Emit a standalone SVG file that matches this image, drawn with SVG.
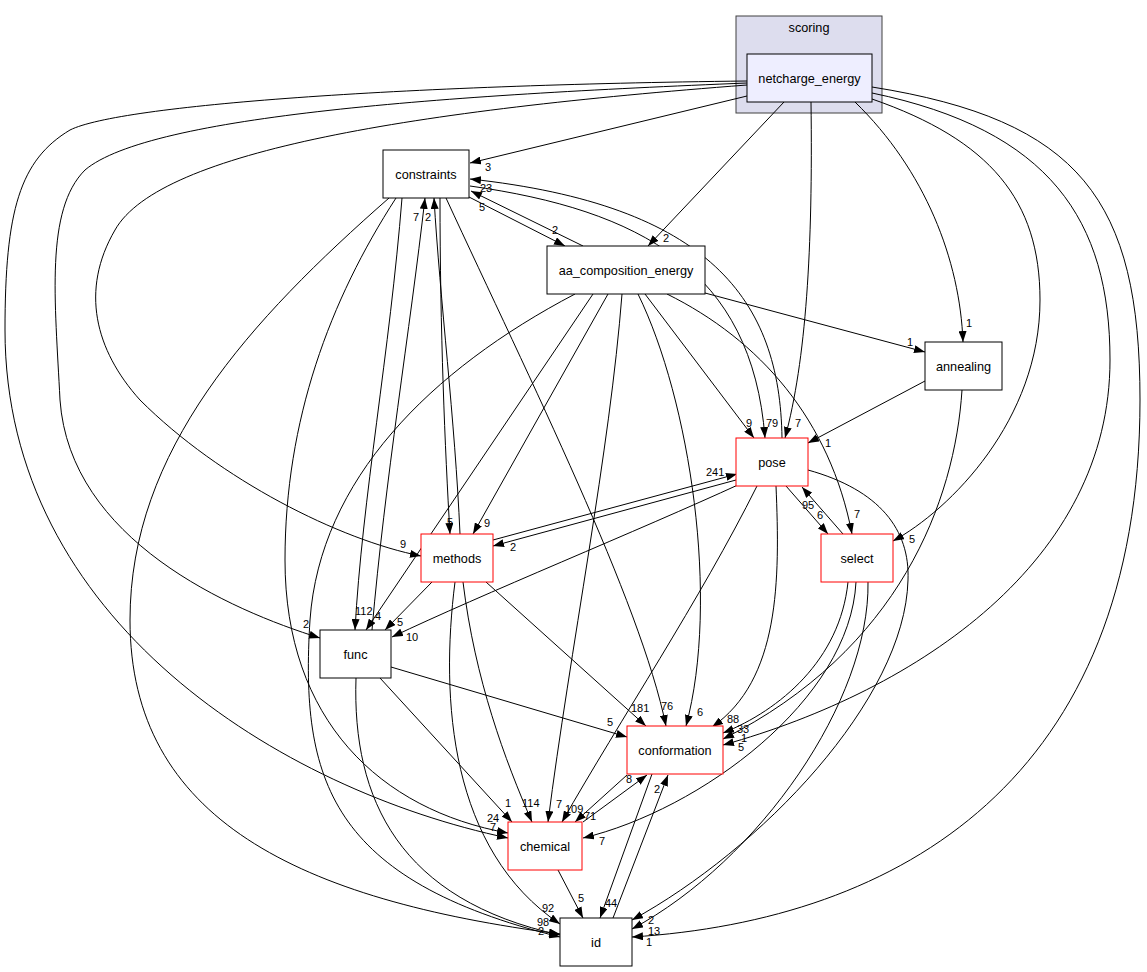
<svg xmlns="http://www.w3.org/2000/svg" width="1147" height="972" viewBox="0 0 1147 972">
<style>
.e{fill:none;stroke:#000;stroke-width:1;marker-end:url(#ah)}
.l{font-family:"Liberation Sans",Arial,sans-serif;font-size:11px;fill:#000}
.n{font-family:"Liberation Sans",Arial,sans-serif;font-size:12.7px;fill:#000;text-anchor:middle}
.bk{fill:#fff;stroke:#000;stroke-width:1}
.rd{fill:#fff;stroke:#ff0000;stroke-width:1}
</style>
<defs>
<marker id="ah" markerWidth="11" markerHeight="8" refX="11" refY="4" orient="auto" markerUnits="userSpaceOnUse">
<path d="M0,0 L11,4 L0,8 z" fill="#000"/>
</marker>
</defs>
<rect width="1147" height="972" fill="#fff"/>
<g id="cluster_scoring">
<rect x="736" y="16" width="146" height="97" fill="#ddddee" stroke="#404040" stroke-width="1"/>
<text class="n" x="809" y="32">scoring</text>
</g>
<g id="edges">
<g><path class="e" d="M747,96 L470,163"/><text class="l" x="485" y="171">3</text></g>
<g><path class="e" d="M784,102 L648,246"/><text class="l" x="663" y="242">2</text></g>
<g><path class="e" d="M811,102 C813,250 806,360 785,438"/><text class="l" x="795" y="427">7</text></g>
<g><path class="e" d="M855,102 C925,170 960,260 963,342"/><text class="l" x="966" y="327">1</text></g>
<g><path class="e" d="M872,99 C990,140 1040,200 1040,300 C1040,420 950,510 893,541"/><text class="l" x="909" y="543">5</text></g>
<g><path class="e" d="M872,93 C1050,130 1110,220 1110,360 C1110,560 920,690 723,745"/><text class="l" x="738" y="751">5</text></g>
<g><path class="e" d="M872,87 C1080,120 1140,200 1140,400 C1140,780 900,920 632,937"/><text class="l" x="646" y="946">1</text></g>
<g><path class="e" d="M747,85 C420,110 160,150 115,230 C80,290 95,350 140,400 C220,480 340,540 421,556"/><text class="l" x="400" y="548">9</text></g>
<g><path class="e" d="M747,83 C450,95 150,115 85,170 C45,210 55,300 60,400 C70,540 230,610 320,638"/><text class="l" x="303" y="628">2</text></g>
<g><path class="e" d="M747,81 C400,85 120,105 70,130 C20,160 5,210 5,330 C5,620 280,790 508,838"/><text class="l" x="490" y="831">7</text></g>
<g><path class="e" d="M469,197 L565,246"/><text class="l" x="552" y="234">2</text></g>
<g><path class="e" d="M583,246 L471,191"/><text class="l" x="479" y="211">5</text></g>
<g><path class="e" d="M782,438 C780,300 710,205 470,179"/><text class="l" x="480" y="192">23</text></g>
<g><path class="e" d="M470,186 C640,210 752,270 765,438"/><text class="l" x="766" y="427">79</text></g>
<g><path class="e" d="M372,630 C385,480 410,330 425,198"/><text class="l" x="413" y="221">7</text></g>
<g><path class="e" d="M460,534 C455,420 440,300 434,198"/><text class="l" x="425" y="221">2</text></g>
<g><path class="e" d="M440,198 C440,330 445,450 450,534"/><text class="l" x="447" y="526">5</text></g>
<g><path class="e" d="M402,198 C390,350 362,500 355,630"/><text class="l" x="355" y="615">112</text></g>
<g><path class="e" d="M396,198 C330,300 285,420 285,560 C285,720 380,810 508,833"/><text class="l" x="487" y="822">24</text></g>
<g><path class="e" d="M389,198 C250,320 130,450 130,620 C130,820 300,900 560,934"/><text class="l" x="538" y="935">2</text></g>
<g><path class="e" d="M446,198 C530,380 640,600 666,726"/><text class="l" x="661" y="710">76</text></g>
<g><path class="e" d="M608,294 L473,534"/><text class="l" x="484" y="527">9</text></g>
<g><path class="e" d="M645,294 L754,438"/><text class="l" x="746" y="427">9</text></g>
<g><path class="e" d="M638,294 C690,400 720,600 686,726"/><text class="l" x="697" y="716">6</text></g>
<g><path class="e" d="M622,294 C610,450 570,650 548,822"/><text class="l" x="556" y="808">7</text></g>
<g><path class="e" d="M705,293 L925,352"/><text class="l" x="907" y="346">1</text></g>
<g><path class="e" d="M667,294 C760,340 830,420 852,534"/><text class="l" x="854" y="518">7</text></g>
<g><path class="e" d="M593,294 L366,630"/><text class="l" x="375" y="620">4</text></g>
<g><path class="e" d="M575,294 C430,370 320,480 310,620 C300,780 330,880 560,937"/><text class="l" x="537" y="926">98</text></g>
<g><path class="e" d="M925,381 L808,443"/><text class="l" x="825" y="447">1</text></g>
<g><path class="e" d="M962,390 C955,500 900,650 723,739"/><text class="l" x="741" y="742">1</text></g>
<g><path class="e" d="M786,486 L828,534"/><text class="l" x="817" y="519">6</text></g>
<g><path class="e" d="M843,534 L802,487"/><text class="l" x="802" y="509">95</text></g>
<g><path class="e" d="M736,480 L493,546"/><text class="l" x="510" y="551">2</text></g>
<g><path class="e" d="M493,540 L737,474"/><text class="l" x="706" y="476">241</text></g>
<g><path class="e" d="M740,484 C640,530 480,595 392,637"/><text class="l" x="406" y="641">10</text></g>
<g><path class="e" d="M776,486 C780,580 780,680 712,727"/><text class="l" x="727" y="723">88</text></g>
<g><path class="e" d="M757,486 C700,600 620,720 562,822"/><text class="l" x="565" y="813">109</text></g>
<g><path class="e" d="M808,470 C880,490 910,530 908,580 C905,700 760,850 632,920"/><text class="l" x="648" y="924">2</text></g>
<g><path class="e" d="M848,582 C840,660 780,710 723,733"/><text class="l" x="737" y="733">33</text></g>
<g><path class="e" d="M856,582 C850,700 700,810 583,838"/><text class="l" x="599" y="845">7</text></g>
<g><path class="e" d="M868,582 C870,700 760,860 632,929"/><text class="l" x="648" y="935">13</text></g>
<g><path class="e" d="M432,582 L385,630"/><text class="l" x="397" y="626">5</text></g>
<g><path class="e" d="M486,582 L646,726"/><text class="l" x="631" y="712">181</text></g>
<g><path class="e" d="M463,582 C475,680 505,760 532,822"/><text class="l" x="522" y="807">114</text></g>
<g><path class="e" d="M455,582 C440,700 450,850 560,924"/><text class="l" x="542" y="912">92</text></g>
<g><path class="e" d="M391,667 L627,737"/><text class="l" x="607" y="726">5</text></g>
<g><path class="e" d="M380,678 L512,822"/><text class="l" x="505" y="807">1</text></g>
<g><path class="e" d="M356,678 C352,800 400,900 560,935"/></g>
<g><path class="e" d="M627,775 L575,822"/><text class="l" x="584" y="820">71</text></g>
<g><path class="e" d="M583,822 L647,775"/><text class="l" x="626" y="783">8</text></g>
<g><path class="e" d="M652,774 L600,918"/><text class="l" x="605" y="907">44</text></g>
<g><path class="e" d="M613,918 L668,775"/><text class="l" x="654" y="793">2</text></g>
<g><path class="e" d="M558,870 L583,918"/><text class="l" x="578" y="902">5</text></g>
</g>
<g id="node_netcharge_energy"><rect x="747" y="54" width="125" height="48" fill="#eeeeff" stroke="#000"/><text class="n" x="809.5" y="82.5">netcharge_energy</text></g>
<g id="node_constraints"><rect class="bk" x="383" y="150" width="86" height="48"/><text class="n" x="426" y="178.5">constraints</text></g>
<g id="node_aa_composition_energy"><rect class="bk" x="547" y="246" width="158" height="48"/><text class="n" x="626" y="274.5">aa_composition_energy</text></g>
<g id="node_annealing"><rect class="bk" x="925" y="342" width="77" height="48"/><text class="n" x="963.5" y="370.5">annealing</text></g>
<g id="node_pose"><rect class="rd" x="736" y="438" width="72" height="48"/><text class="n" x="772" y="466.5">pose</text></g>
<g id="node_select"><rect class="rd" x="821" y="534" width="72" height="48"/><text class="n" x="857" y="562.5">select</text></g>
<g id="node_methods"><rect class="rd" x="421" y="534" width="72" height="48"/><text class="n" x="457" y="562.5">methods</text></g>
<g id="node_func"><rect class="bk" x="320" y="630" width="71" height="48"/><text class="n" x="355.5" y="658.5">func</text></g>
<g id="node_conformation"><rect class="rd" x="627" y="726" width="96" height="48"/><text class="n" x="675" y="754.5">conformation</text></g>
<g id="node_chemical"><rect class="rd" x="508" y="822" width="74" height="48"/><text class="n" x="545" y="850.5">chemical</text></g>
<g id="node_id"><rect class="bk" x="560" y="918" width="72" height="48"/><text class="n" x="596" y="946.5">id</text></g>
</svg>
